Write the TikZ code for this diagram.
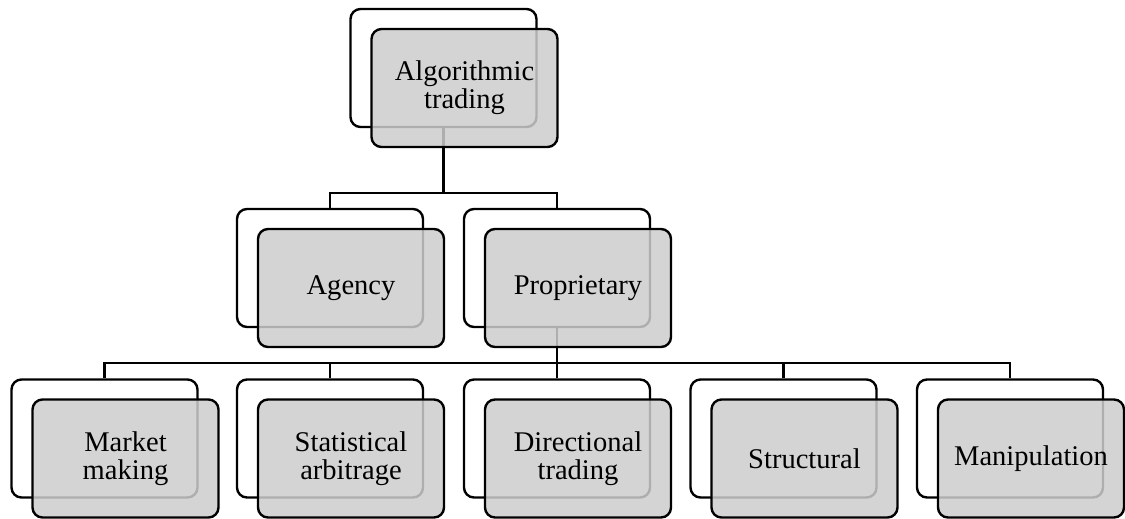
\documentclass[tikz,border=0pt]{standalone}
\usepackage{fontspec}
\setmainfont{Liberation Serif}
\usepackage{tikz}
\usetikzlibrary{positioning}
\definecolor{boxGray}{HTML}{CDCDCD}
\definecolor{boxLine}{HTML}{000000}
\tikzset{
  backbox/.style={rectangle,draw=boxLine,line width=1.8pt,fill=white,rounded corners=7.5pt,
    minimum width=139.5pt,minimum height=88.5pt,inner sep=0pt},
  frontbox/.style={rectangle,draw=boxLine,line width=1.8pt,fill=boxGray,fill opacity=0.85,
    text opacity=1,rounded corners=7.5pt,minimum width=139.5pt,minimum height=88.5pt,
    inner sep=0pt,align=center,font=\fontsize{21.4}{21}\selectfont},
  link/.style={draw=boxLine,line width=1.7pt}
}

\begin{document}
\begin{tikzpicture}[x=0.75pt,y=-0.75pt]
  \useasboundingbox (0,0) rectangle (1125,518);
  % back frames
  \node[backbox] (algoBack) at (443.5,68) {};
  \node[backbox] (agencyBack) at (330,268) {};
  \node[backbox] (propBack) at (557,268) {};
  \node[backbox] (marketBack) at (104.5,438.5) {};
  \node[backbox] (statBack) at (330,438.5) {};
  \node[backbox] (dirBack) at (557,438.5) {};
  \node[backbox] (structBack) at (783.5,438.5) {};
  \node[backbox] (manipBack) at (1010,438.5) {};
  % connectors
  \coordinate (busTop) at (443.5,193);
  \coordinate (busLow) at (557,363);
  \draw[link] (algoBack.south) -- (busTop);
  \draw[link] (agencyBack.north) |- (busTop) -| (propBack.north);
  \draw[link] (propBack.south) -- (busLow);
  \draw[link] (marketBack.north) |- (busLow) -| (manipBack.north);
  \foreach \n in {statBack,dirBack,structBack}
    \draw[link] (\n.north) -- (\n.north |- busLow);
  % front boxes
  \node[frontbox] (algo) at ([shift={(21,20)}]algoBack) {Algorithmic\\trading};
  \node[frontbox] (agency) at ([shift={(21,20)}]agencyBack) {Agency};
  \node[frontbox] (prop) at ([shift={(21,20)}]propBack) {Proprietary};
  \node[frontbox] (market) at ([shift={(21,20)}]marketBack) {Market\\making};
  \node[frontbox] (stat) at ([shift={(21,20)}]statBack) {Statistical\\arbitrage};
  \node[frontbox] (dir) at ([shift={(21,20)}]dirBack) {Directional\\trading};
  \node[frontbox] (struct) at ([shift={(21,20)}]structBack) {Structural};
  \node[frontbox] (manip) at ([shift={(21,20)}]manipBack) {Manipulation};
\end{tikzpicture}
\end{document}
